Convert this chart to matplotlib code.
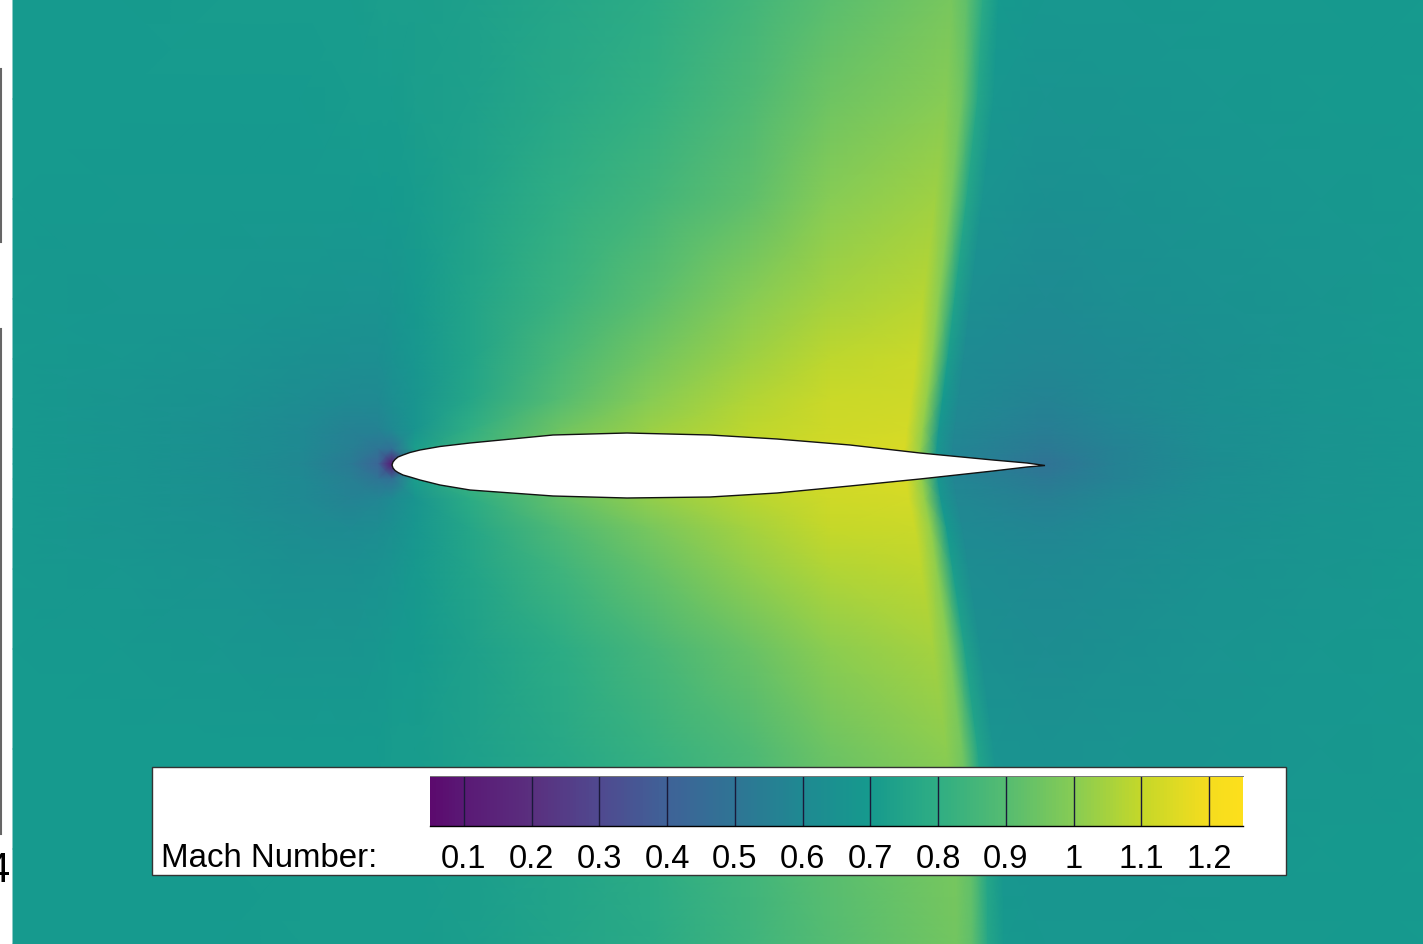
import numpy as np
import matplotlib
matplotlib.use("Agg")
import matplotlib.pyplot as plt
from matplotlib.colors import LinearSegmentedColormap
from matplotlib.patches import Rectangle, Polygon

plt.rcParams["font.family"] = ["Liberation Sans", "DejaVu Sans"]

W, H = 1423, 945

# Mach field
# rows (pixel y), and where the shock sits on each row (pixel x)
row_y = [0, 100, 200, 300, 360, 400, 430, 450, 465, 480, 500, 530, 570, 650, 750, 850, 945]
shock_x = [975, 970, 959, 947, 940, 935, 931, 929, 928, 930, 933, 939, 945, 957, 970, 979, 980]
left_x = [13, 120, 220, 300, 350, 378, 392, 415, 470, 560, 650, 750, 830]
shock_off = [-24, -8, 8, 24]
right_x = [1045, 1120, 1220, 1320, 1423]

m_000 = [.70, .70, .71, .71, .71, .72, .72, .72, .73, .76, .79, .85, .91, .97, .92, .78, .70, .68, .68, .69, .69, .70]
m_100 = [.70, .70, .70, .70, .71, .71, .71, .72, .73, .77, .81, .88, .95, 1.0, .95, .76, .68, .66, .67, .68, .69, .70]
m_200 = [.70, .69, .69, .69, .69, .70, .70, .71, .74, .80, .85, .92, 1.0, 1.04, .98, .76, .66, .64, .65, .67, .68, .69]
m_300 = [.69, .68, .68, .67, .66, .66, .67, .69, .75, .83, .91, 1.0, 1.05, 1.08, 1.0, .74, .63, .61, .63, .65, .67, .69]
m_360 = [.69, .68, .66, .64, .63, .63, .65, .68, .75, .87, .96, 1.04, 1.09, 1.11, 1.02, .72, .61, .59, .61, .64, .67, .69]
m_400 = [.69, .67, .65, .62, .60, .60, .63, .67, .76, .90, 1.0, 1.07, 1.11, 1.12, 1.02, .70, .60, .57, .60, .64, .67, .68]
m_430 = [.69, .67, .64, .60, .56, .57, .60, .67, .80, .95, 1.03, 1.09, 1.12, 1.13, 1.02, .68, .59, .54, .58, .63, .66, .68]
m_450 = [.69, .67, .64, .60, .55, .50, .48, .72, .84, .97, 1.05, 1.10, 1.13, 1.14, 1.02, .68, .58, .52, .57, .63, .66, .68]
m_465 = [.69, .67, .63, .59, .53, .42, .09, .72, .84, .97, 1.05, 1.10, 1.13, 1.14, 1.02, .68, .58, .49, .57, .62, .66, .68]
m_480 = [.69, .67, .64, .60, .55, .50, .48, .72, .84, .97, 1.05, 1.10, 1.13, 1.14, 1.02, .68, .58, .52, .57, .63, .66, .68]
m_500 = [.69, .67, .64, .60, .57, .58, .61, .67, .79, .93, 1.02, 1.08, 1.12, 1.13, 1.02, .68, .59, .55, .59, .63, .66, .68]
m_530 = [.69, .67, .65, .62, .61, .62, .64, .68, .76, .88, .97, 1.05, 1.10, 1.11, 1.02, .70, .60, .58, .61, .64, .67, .68]
m_570 = [.69, .68, .66, .64, .64, .65, .66, .69, .75, .84, .93, 1.02, 1.07, 1.09, 1.01, .72, .62, .60, .62, .65, .67, .69]
m_650 = [.70, .69, .68, .67, .67, .68, .69, .70, .73, .79, .86, .94, 1.01, 1.05, .99, .74, .64, .62, .64, .66, .68, .69]
m_750 = [.70, .70, .70, .70, .70, .70, .71, .71, .73, .77, .82, .88, .95, 1.01, .96, .75, .66, .65, .66, .67, .68, .69]
m_850 = [.70, .70, .70, .71, .71, .71, .71, .71, .72, .75, .79, .85, .91, .97, .93, .76, .68, .67, .67, .68, .69, .70]
m_945 = [.70, .70, .70, .71, .71, .71, .71, .71, .72, .75, .78, .84, .90, .96, .92, .76, .69, .68, .68, .69, .69, .70]

# airfoil outline
upper_x = [392, 393, 395, 398, 403, 410, 420, 440, 470, 553, 627, 710, 777, 850, 920, 993, 1027, 1045]
upper_y = [466, 463, 460.5, 458, 456, 453.5, 451, 447.5, 444, 436, 434, 436, 440, 446, 454, 461, 464, 466.5]
lower_x = [1027, 993, 920, 850, 777, 710, 627, 553, 470, 440, 420, 410, 403, 398, 395, 393]
lower_y = [468, 472, 480, 487, 494, 498, 499, 497, 491, 486, 481, 478, 476, 473.5, 471.5, 469]

# colour bar, colours sampled from the bar at these Mach numbers
mach_min, mach_max = 0.05, 1.25
cmap_mach = [0.05, 0.1, 0.2, 0.3, 0.4, 0.5, 0.6, 0.7, 0.8, 0.9, 1.0, 1.1, 1.2, 1.25]
cmap_hex = ["#5c0a6e", "#5a1a76", "#5a307f", "#504a90", "#3f6398", "#2f7595", "#1f8a92",
            "#169a8e", "#2fae84", "#55bc72", "#86cc55", "#c4d82a", "#f5dd1f", "#fde01c"]
bar_ticks = [0.1, 0.2, 0.3, 0.4, 0.5, 0.6, 0.7, 0.8, 0.9, 1.0, 1.1, 1.2]
bar_labels = ["0.1", "0.2", "0.3", "0.4", "0.5", "0.6", "0.7", "0.8", "0.9", "1", "1.1", "1.2"]

stops = [(m - mach_min) / (mach_max - mach_min) for m in cmap_mach]
cmap = LinearSegmentedColormap.from_list("mach", list(zip(stops, cmap_hex)), N=512)

field = np.array([m_000, m_100, m_200, m_300, m_360, m_400, m_430, m_450, m_465,
                  m_480, m_500, m_530, m_570, m_650, m_750, m_850, m_945])

# mesh: fixed columns left and right, the four middle ones follow the shock
X = []
for sx in shock_x:
    X.append(left_x + [sx + d for d in shock_off] + right_x)
X = np.array(X, dtype=float)
Y = np.repeat(np.array(row_y, dtype=float)[:, None], X.shape[1], axis=1)

fig = plt.figure(figsize=(W / 100, H / 100), dpi=100, facecolor="white")
ax = fig.add_axes([0, 0, 1, 1])
ax.set_xlim(0, W)
ax.set_ylim(H, 0)
ax.axis("off")

ax.pcolormesh(X, Y, field, shading="gouraud", cmap=cmap, vmin=mach_min, vmax=mach_max)

ax.add_patch(Polygon(list(zip(upper_x + lower_x, upper_y + lower_y)), closed=True,
                     facecolor="white", edgecolor="#111111", linewidth=1.0, zorder=3))

# cut off bits of the neighbouring figure on the left edge
ax.plot([0.5, 0.5], [70, 243], color="#666666", lw=1.5)
ax.plot([0.5, 0.5], [330, 835], color="#666666", lw=1.5)
ax.text(10, 882, "4", ha="right", va="baseline", fontsize=30, color="black", clip_on=True)

# legend box
ax.add_patch(Rectangle((152, 768), 1134, 108, facecolor="white", edgecolor="#333333",
                       linewidth=1.0, zorder=4))
ax.text(161, 867, "Mach Number:", ha="left", va="baseline", fontsize=23.8, color="black", zorder=5)

cax = fig.add_axes([430 / W, 1 - 827 / H, 813 / W, 50 / H], zorder=6)
cax.imshow(np.linspace(mach_min, mach_max, 256)[None, :], aspect="auto", cmap=cmap,
           vmin=mach_min, vmax=mach_max, extent=[mach_min, mach_max, 0, 1])
cax.vlines(bar_ticks, 0, 1, color="#1a1a3a", linewidth=1.0)
cax.set_yticks([])
cax.set_xticks(bar_ticks)
cax.set_xticklabels(bar_labels, fontsize=23.5)
cax.tick_params(axis="x", length=0, pad=12)
for s in ["left", "right"]:
    cax.spines[s].set_visible(False)
cax.spines["top"].set_color("#777777")
cax.spines["top"].set_linewidth(0.7)
cax.spines["bottom"].set_linewidth(1.0)

fig.savefig("out.png", dpi=100)
